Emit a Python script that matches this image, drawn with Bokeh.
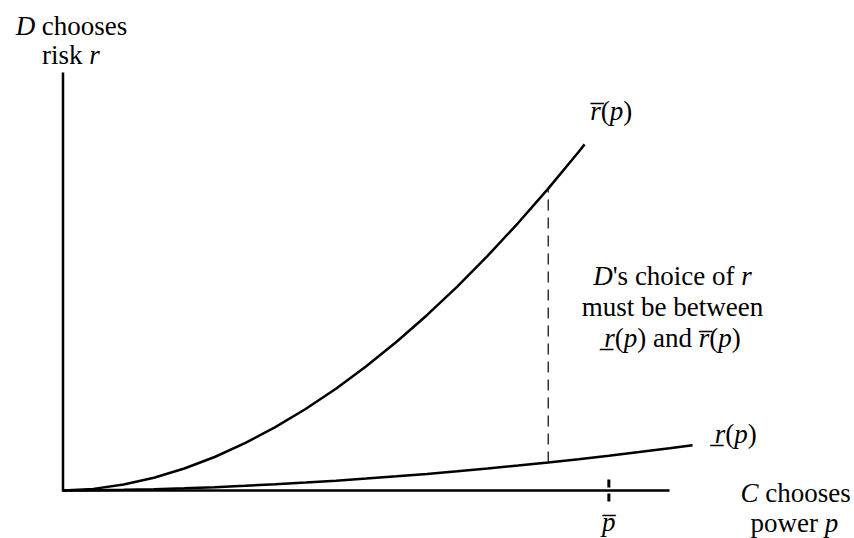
import unicodedata
from bokeh.plotting import figure
from bokeh.models import Range1d, ColumnDataSource
from bokeh.core.properties import value
from bokeh.embed import file_html
from bokeh.resources import INLINE

# ---------------- data (chart units) ----------------
p_upper = [0, 0.5, 1, 1.5, 2, 2.5, 3, 3.5, 4, 4.5, 5, 5.5, 6, 6.5, 7, 7.5, 8, 8.5, 8.6]
r_upper = [0, 0.038, 0.142, 0.305, 0.526, 0.801, 1.131, 1.514, 1.948, 2.434, 2.971,
           3.557, 4.193, 4.878, 5.611, 6.392, 7.221, 8.099, 8.28]

p_lower = [0, 0.5, 1, 1.5, 2, 2.5, 3, 3.5, 4, 4.5, 5, 5.5, 6, 6.5, 7, 7.5, 8, 8.5,
           9, 9.5, 10, 10.38]
r_lower = [0, 0.004, 0.015, 0.031, 0.053, 0.080, 0.111, 0.148, 0.189, 0.234, 0.284,
           0.338, 0.396, 0.459, 0.525, 0.596, 0.670, 0.749, 0.832, 0.918, 1.009, 1.08]

p_axis_max = 10.0
r_axis_max = 10.0
p_choice = 8.0      # where the dashed "choice" line is drawn
p_bar = 9.0         # the p-bar tick on the horizontal axis
tick_half = 0.263   # half length of p-bar tick (r units)

# ---------------- figure ----------------
FONT = "Liberation Serif"
FS = 27
p = figure(width=854, height=538,
           x_range=Range1d(-1.0305, 13.050), y_range=Range1d(-1.149, 11.722),
           x_axis_type=None, y_axis_type=None,
           output_backend="svg", toolbar_location=None,
           min_border=0, outline_line_color=None,
           background_fill_color="white", border_fill_color="white")
p.grid.visible = False

# axes as an L-shaped line
p.line([p_axis_max, 0, 0], [0, 0, r_axis_max], line_color="black",
       line_width=2.5, line_join="miter")

# curves
p.line(p_upper, r_upper, line_color="black", line_width=2.5)
p.line(p_lower, r_lower, line_color="black", line_width=2.5)

# dashed vertical between the two curves at p_choice
lo = r_lower[p_lower.index(p_choice)]
hi = r_upper[p_upper.index(p_choice)]
p.segment(x0=[p_choice], y0=[lo], x1=[p_choice], y1=[hi],
          line_color="black", line_width=1.2, line_dash="11 7")

# p-bar tick
p.segment(x0=[p_bar], y0=[tick_half], x1=[p_bar], y1=[-tick_half],
          line_color="black", line_width=3, line_dash="8 6")

# ---------------- text (mixed italic / roman runs) ----------------
W_REG = {' ': 250, "'": 180, '(': 333, ')': 333, 'a': 444, 'b': 500, 'c': 444,
         'd': 500, 'e': 444, 'f': 333, 'h': 500, 'i': 278, 'k': 500, 'm': 778,
         'n': 500, 'o': 500, 'p': 500, 'r': 333, 's': 389, 't': 278, 'u': 500,
         'w': 722, 'C': 667, 'D': 722}
W_IT = {' ': 250, 'D': 722, 'C': 667, 'r': 389, 'p': 500}


def run_width(s, italic):
    tab = W_IT if italic else W_REG
    tot = 0
    for ch in s:
        if unicodedata.combining(ch):
            continue
        tot += tab.get(ch, 500)
    return tot * FS / 1000.0


OVER = "\u0305"
UNDER = "\u0332"

# (x, baseline y, runs) -- spaces kept at the end of runs (SVG trims them,
# but the offsets below already account for them)
lines = [
    (0.14, 11.12, [("D ", 1), ("chooses", 0)]),
    (0.13, 10.41, [("risk ", 0), ("r", 1)]),
    (9.04, 9.09, [("r" + OVER, 1), ("(", 0), ("p", 1), (")", 0)]),
    (10.05, 5.12, [("D", 1), ("'s choice of ", 0), ("r", 1)]),
    (10.05, 4.38, [("must be between", 0)]),
    (10.05, 3.64, [("r" + UNDER, 1), ("(", 0), ("p", 1), (") and ", 0),
                   ("r" + OVER, 1), ("(", 0), ("p", 1), (")", 0)]),
    (11.09, 1.36, [("r" + UNDER, 1), ("(", 0), ("p", 1), (")", 0)]),
    (12.08, -0.05, [("C ", 1), ("chooses", 0)]),
    (12.06, -0.77, [("power ", 0), ("p", 1)]),
    (p_bar, -0.76, [("p" + OVER, 1)]),
]

cols = {0: dict(x=[], y=[], text=[], xo=[]), 1: dict(x=[], y=[], text=[], xo=[])}
for (lx, ly, runs) in lines:
    total = sum(run_width(s, it) for s, it in runs)
    last_s, last_it = runs[-1]
    total -= run_width(last_s, last_it) - run_width(last_s.rstrip(), last_it)
    off = -total / 2.0
    for s, it in runs:
        c = cols[it]
        c["x"].append(lx)
        c["y"].append(ly)
        c["text"].append(s.strip())
        c["xo"].append(off)
        off += run_width(s, it)

for it in (0, 1):
    src = ColumnDataSource(cols[it])
    p.text(x="x", y="y", text="text", x_offset="xo", source=src,
           text_font=value(FONT), text_font_size=f"{FS}px",
           text_font_style="italic" if it else "normal",
           text_align="left", text_baseline="alphabetic", text_color="black")

open("out.html", "w").write(file_html(p, INLINE))
